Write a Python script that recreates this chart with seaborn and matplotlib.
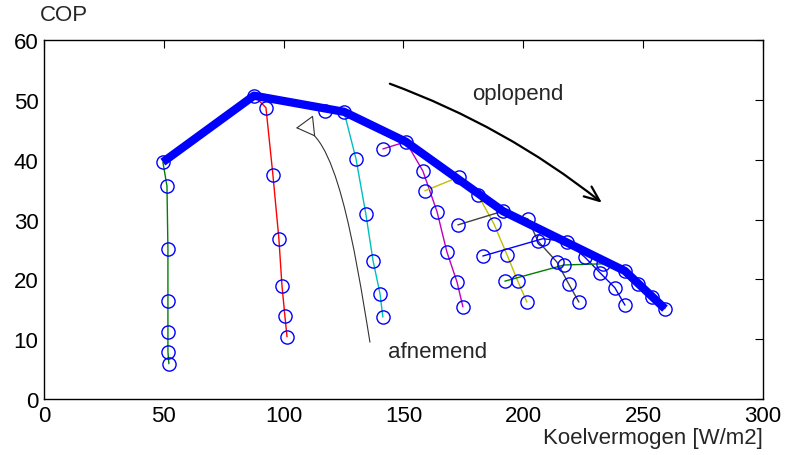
import pandas as pd
import seaborn as sns
import matplotlib.pyplot as plt
from matplotlib.patches import FancyArrowPatch
from matplotlib.path import Path

sns.set_style('white')
plt.rcParams['font.family'] = ['Liberation Sans', 'DejaVu Sans']

# envelope line (max COP of each curve)
env_x = [49.6, 87.6, 125.2, 151.0, 191.5, 242.4, 259.1]
env_y = [39.6, 50.7, 48.0, 43.0, 31.4, 21.4, 15.1]

# individual curves
green_x = [49.6, 51.3, 51.7, 51.7, 51.7, 51.7, 52.1]
green_y = [39.6, 35.6, 25.1, 16.4, 11.2, 7.9, 5.9]

red_x = [87.6, 92.6, 95.5, 98.0, 99.3, 100.5, 101.4]
red_y = [50.7, 48.7, 37.5, 26.8, 18.9, 13.9, 10.4]

cyan_x = [117.2, 125.2, 130.2, 134.3, 137.3, 140.2, 141.4]
cyan_y = [48.2, 48.0, 40.1, 30.9, 23.1, 17.6, 13.7]

magenta_x = [141.4, 151.0, 158.1, 164.0, 168.1, 172.3, 174.8]
magenta_y = [41.8, 43.0, 38.1, 31.3, 24.6, 19.6, 15.4]

yellow_x = [158.9, 173.1, 181.1, 187.7, 193.2, 197.7, 201.5]
yellow_y = [34.8, 37.1, 34.1, 29.3, 24.1, 19.7, 16.2]

gray_x = [172.7, 191.5, 201.9, 206.1, 214.0, 219.0, 223.2]
gray_y = [29.1, 31.4, 30.1, 26.4, 22.9, 19.2, 16.2]

blue_x = [183.1, 208.2, 218.2, 225.7, 232.0, 238.2, 242.4]
blue_y = [23.9, 26.8, 26.3, 23.7, 21.1, 18.6, 15.7]

green2_x = [192.3, 217.0, 233.2, 242.4, 247.8, 253.6, 259.1]
green2_y = [19.7, 22.4, 22.6, 21.4, 19.2, 17.1, 15.1]

curves = {
    'c1': (green_x, green_y, (0, 0.5, 0)),
    'c2': (red_x, red_y, (1, 0, 0)),
    'c3': (cyan_x, cyan_y, (0, 0.75, 0.75)),
    'c4': (magenta_x, magenta_y, (0.75, 0, 0.75)),
    'c5': (yellow_x, yellow_y, (0.75, 0.75, 0)),
    'c6': (gray_x, gray_y, (0.25, 0.25, 0.25)),
    'c7': (blue_x, blue_y, (0, 0, 1)),
    'c8': (green2_x, green2_y, (0, 0.5, 0)),
}

rows = []
for name, (xs, ys, c) in curves.items():
    for x, y in zip(xs, ys):
        rows.append({'curve': name, 'x': x, 'y': y})
df = pd.DataFrame(rows)
palette = {name: v[2] for name, v in curves.items()}

fig, ax = plt.subplots(figsize=(7.89, 4.56), dpi=100)
fig.subplots_adjust(left=0.0558, right=0.967, bottom=0.1228, top=0.910)

sns.lineplot(data=df, x='x', y='y', hue='curve', palette=palette, sort=False,
             estimator=None, legend=False, linewidth=1, ax=ax, zorder=2)
sns.lineplot(x=env_x, y=env_y, color='blue', linewidth=6, sort=False,
             estimator=None, ax=ax, zorder=3, solid_capstyle='butt')
ax.plot(df['x'], df['y'], 'o', mfc='none', mec='blue', ms=9.5, mew=1, zorder=4)

# arrow "oplopend"
ax.annotate('', xy=(232.8, 32.8), xytext=(144.3, 52.7),
            arrowprops=dict(arrowstyle='->,head_length=1.1,head_width=0.45', lw=1.6,
                            color='k', connectionstyle='arc3,rad=-0.08',
                            shrinkA=0, shrinkB=0))
ax.text(197.7, 51.0, 'oplopend', fontsize=16, ha='center', va='center')

# arrow "afnemend"
verts = [(136.0, 9.5), (129.7, 25.1), (121.4, 46.0), (105.1, 45.3)]
codes = [Path.MOVETO, Path.CURVE4, Path.CURVE4, Path.CURVE4]
arr = FancyArrowPatch(path=Path(verts, codes),
                      arrowstyle='-|>,head_length=0.6,head_width=0.35',
                      mutation_scale=20, fc='white', ec=(0.2, 0.2, 0.2), lw=0.8, zorder=2)
ax.add_patch(arr)
ax.text(143.5, 8.0, 'afnemend', fontsize=16, ha='left', va='center')

ax.set_xlim(0, 300)
ax.set_ylim(0, 60)
ax.set_xticks(range(0, 301, 50))
ax.set_yticks(range(0, 61, 10))
ax.tick_params(direction='in', length=6, width=0.8, top=True, right=True,
               labelsize=16, pad=4, colors='k')
for s in ax.spines.values():
    s.set_color('k')
    s.set_linewidth(1)
ax.set_xlabel('')
ax.set_ylabel('')
ax.text(-0.006, 1.072, 'COP', transform=ax.transAxes, fontsize=16, ha='left', va='center')
ax.text(1.0, -0.106, 'Koelvermogen [W/m2]', transform=ax.transAxes, fontsize=16,
        ha='right', va='center')

fig.savefig('out.png', dpi=100)
